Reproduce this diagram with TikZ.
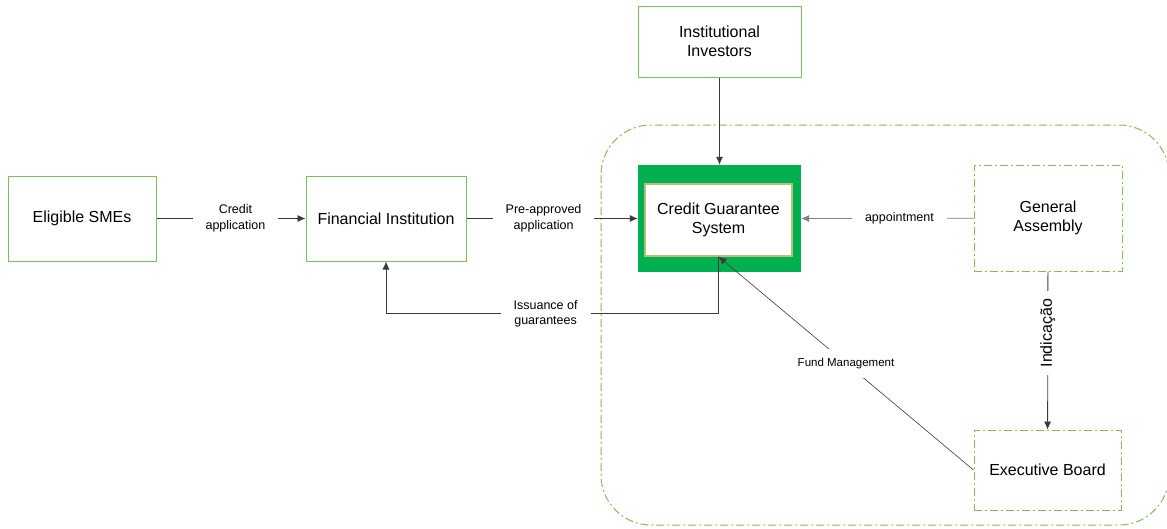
\documentclass[tikz,border=0pt]{standalone}
\usepackage{fontspec}
\setmainfont{Liberation Sans}
\usetikzlibrary{arrows.meta}
\definecolor{boxgreen}{HTML}{7FBF5C}
\definecolor{cgsgreen}{HTML}{00B050}
\definecolor{cgsedge}{HTML}{B3C07A}
\definecolor{linkgray}{HTML}{3A3A3A}
\tikzset{
  mainfont/.style={font=\fontsize{16}{19.5}\selectfont},
  plainbox/.style={draw=boxgreen, line width=1pt, fill=white, align=center, mainfont, inner sep=0pt},
  dashbox/.style={plainbox, dash pattern=on 8pt off 3pt on 2pt off 3pt},
  link/.style={draw=linkgray, line width=0.8pt, -{Latex[length=8pt,width=7pt]}},
  lbl/.style={fill=white, align=center, inner xsep=13pt, inner ysep=3pt, font=\fontsize{12.5}{15.5}\selectfont},
  smalllbl/.style={fill=white, align=center, inner xsep=4pt, inner ysep=9pt, font=\fontsize{11.5}{14}\selectfont}
}
\begin{document}
\begin{tikzpicture}[x=1pt,y=-1pt]
\useasboundingbox (0,0) rectangle (1167,528);
\clip (0,0) rectangle (1167,528);

% enclosing boundary of the guarantee system
\draw[boxgreen, line width=1pt, dash pattern=on 8pt off 3pt on 2pt off 3pt, rounded corners=50pt]
  (601,125) rectangle (1169,525);

% boxes
\node[plainbox, minimum width=148pt, minimum height=85pt] (sme) at (82,218.5) {Eligible SMEs};
\node[plainbox, minimum width=160pt, minimum height=85pt] (fi) at (386,218.5) {Financial Institution};
\node[plainbox, minimum width=163pt, minimum height=71pt] (ii) at (719.5,41.5) {Institutional\\Investors};
\node[fill=cgsgreen, minimum width=163pt, minimum height=107pt, inner sep=0pt] (cgsout) at (719.5,218.5) {};
\node[draw=cgsedge, line width=1.2pt, fill=white, minimum width=147pt, minimum height=72pt,
      align=center, mainfont, inner sep=0pt] (cgs) at (718.5,220) {Credit Guarantee\\System};
\node[dashbox, minimum width=148pt, minimum height=106pt] (ga) at (1048,218) {General\\Assembly};
\node[dashbox, minimum width=147pt, minimum height=80pt] (eb) at (1047.5,470) {Executive Board};

% flows
\draw[link] (sme) -- node[lbl, pos=0.53]{Credit\\application} (fi);
\draw[link] (fi) -- node[lbl, pos=0.45]{Pre-approved\\application} (cgsout.west);
\draw[link] (ii) -- (cgsout.north);
\draw[link, draw=gray] (ga) -- node[lbl, pos=0.43]{appointment} (cgsout.east);
\draw[link] (cgs.south) -- ++(0,57) -| node[lbl, pos=0.26]{Issuance of\\guarantees} (fi.south);
\draw[link] (ga) -- node[fill=white, inner xsep=8pt, inner ysep=2pt, mainfont, rotate=90, pos=0.39]{Indicação} (eb);
\draw[link, line width=0.6pt] (eb.west) -- node[smalllbl]{Fund Management} (cgs.south);
\end{tikzpicture}
\end{document}
